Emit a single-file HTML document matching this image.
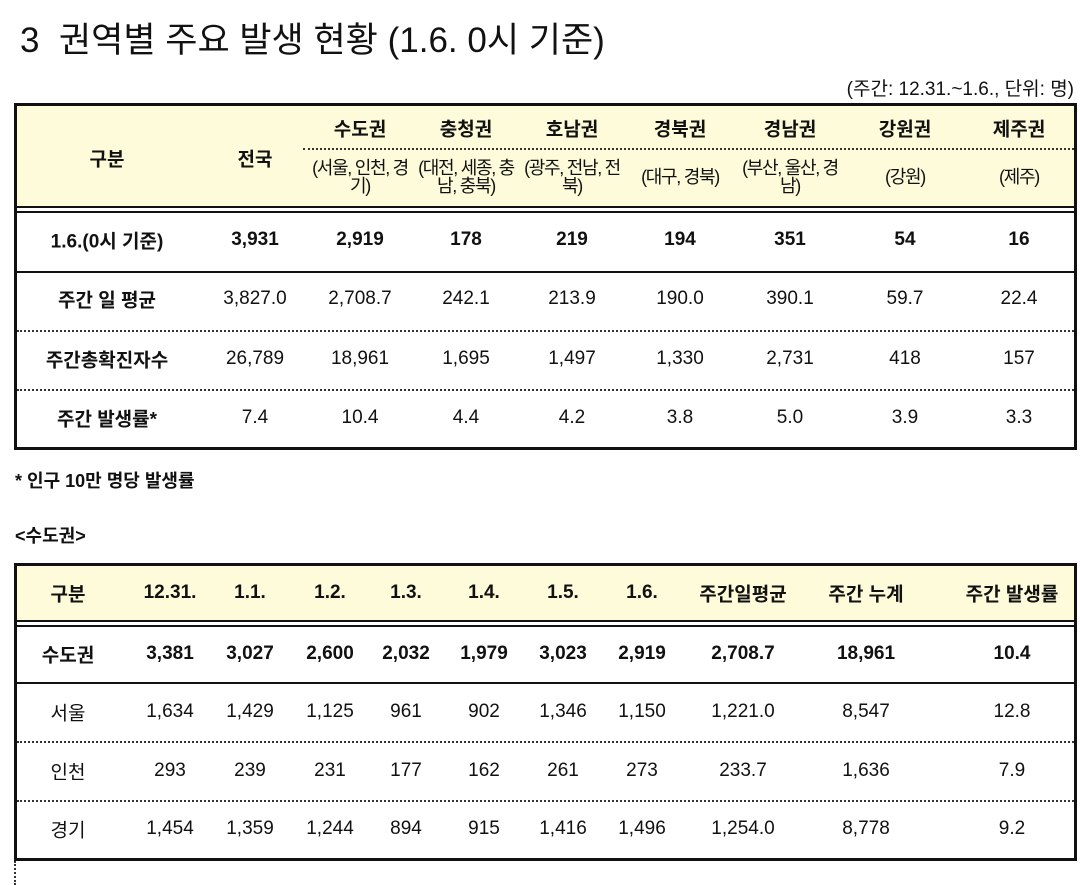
<!DOCTYPE html>
<html><head><meta charset="utf-8">
<style>
*{margin:0;padding:0;box-sizing:border-box}
body{width:1080px;height:885px;background:#fff;position:relative;overflow:hidden;font-family:"Liberation Sans","Noto Sans CJK KR",sans-serif;color:#111}
.a{position:absolute}
.c{position:absolute;transform:translate(-50%,-50%);white-space:nowrap;text-align:center}
.b{font-weight:bold}
.sub{letter-spacing:-1.3px;line-height:18px}
.hl{position:absolute;height:0}
.dot{border-top:2px dotted #333}
</style></head><body>
<div class="a" style="left:20px;top:12px;font-size:35px;letter-spacing:0px">3 &nbsp;권역별 주요 발생 현황 (1.6. 0시 기준)</div>
<div class="a" style="right:6px;top:74px;font-size:19px">(주간: 12.31.~1.6., 단위: 명)</div>

<div class="a" style="left:14px;top:103px;width:1063px;height:347px;border:3px solid #111">
  <div class="a" style="left:0;top:0;width:1057px;height:102px;background:#fdfbd9;border-bottom:2px solid #111"></div>
  <div class="a" style="left:0;top:105px;width:1057px;border-top:2px solid #111"></div>
  <div class="hl dot" style="left:286px;top:42px;width:771px"></div>
  <div class="hl" style="left:0;top:165px;width:1057px;border-top:2px solid #111"></div>
  <div class="hl dot" style="left:0;top:224px;width:1057px"></div>
  <div class="hl dot" style="left:0;top:283px;width:1057px"></div>
</div>
<div id="t1"></div>

<div class="a b" style="left:15px;top:467px;font-size:18px">* 인구 10만 명당 발생률</div>
<div class="a b" style="left:15px;top:522px;font-size:18px">&lt;수도권&gt;</div>

<div class="a" style="left:14px;top:563px;width:1063px;height:298px;border:3px solid #111">
  <div class="a" style="left:0;top:0;width:1057px;height:56px;background:#fdfbd9;border-bottom:2px solid #111"></div>
  <div class="a" style="left:0;top:59px;width:1057px;border-top:2px solid #111"></div>
  <div class="hl" style="left:0;top:116px;width:1057px;border-top:2px solid #111"></div>
  <div class="hl dot" style="left:0;top:175px;width:1057px"></div>
  <div class="hl dot" style="left:0;top:234px;width:1057px"></div>
</div>
<div class="a" style="left:14px;top:861px;height:24px;border-left:2px dotted #333"></div>
<div id="t2"></div>

<script>
const regions=["수도권","충청권","호남권","경북권","경남권","강원권","제주권"];
const regionSubs=[["(서울, 인천, 경","기)"],["(대전, 세종, 충","남, 충북)"],["(광주, 전남, 전","북)"],["(대구, 경북)"],["(부산, 울산, 경","남)"],["(강원)"],["(제주)"]];
const rowLabels=["1.6.(0시 기준)","주간 일 평균","주간총확진자수","주간 발생률*"];
const rowNational=["3,931","3,827.0","26,789","7.4"];
const rowToday=["2,919","178","219","194","351","54","16"];
const rowAvg=["2,708.7","242.1","213.9","190.0","390.1","59.7","22.4"];
const rowTotal=["18,961","1,695","1,497","1,330","2,731","418","157"];
const rowRate=["10.4","4.4","4.2","3.8","5.0","3.9","3.3"];
const days=["12.31.","1.1.","1.2.","1.3.","1.4.","1.5.","1.6.","주간일평균","주간 누계","주간 발생률"];
const capLabels=["수도권","서울","인천","경기"];
const capTotal=["3,381","3,027","2,600","2,032","1,979","3,023","2,919","2,708.7","18,961","10.4"];
const seoul=["1,634","1,429","1,125","961","902","1,346","1,150","1,221.0","8,547","12.8"];
const incheon=["293","239","231","177","162","261","273","233.7","1,636","7.9"];
const gyeonggi=["1,454","1,359","1,244","894","915","1,416","1,496","1,254.0","8,778","9.2"];

function put(parent,x,y,html,cls,name,size){
  const d=document.createElement('div');
  d.className='c '+(cls||'');
  d.style.left=x+'px';d.style.top=y+'px';d.style.fontSize=(size||19)+'px';
  d.innerHTML=html;
  
  
  parent.appendChild(d);
}
const t1=document.getElementById('t1');
const cx1=[107,255,360,466,572,680,790,905,1019];
put(t1,cx1[0],158,"구분","b","header-category");
put(t1,cx1[1],158,"전국","b","header-national");
regions.forEach((r,i)=>{
  put(t1,cx1[i+2],128,r,"b","header-region");
  put(t1,cx1[i+2],177,regionSubs[i].join("<br>"),"sub","header-region-sub",18);
});
const rowsY=[240,299,359,418];
const rowSets=[rowToday,rowAvg,rowTotal,rowRate];
rowLabels.forEach((l,r)=>{
  put(t1,cx1[0],rowsY[r],l,"b","row-label");
  put(t1,cx1[1],rowsY[r],rowNational[r],r==0?"b":"","cell-national");
  rowSets[r].forEach((v,i)=>put(t1,cx1[i+2],rowsY[r],v,r==0?"b":"","cell-value"));
});
const t2=document.getElementById('t2');
const cx2=[68,170,250,330,406,484,563,642,743,866,1012];
put(t2,cx2[0],593,"구분","b","header-category");
days.forEach((d,i)=>put(t2,cx2[i+1],593,d,"b","header-day"));
const y2=[654,712,771,829];
[capTotal,seoul,incheon,gyeonggi].forEach((arr,r)=>{
  put(t2,cx2[0],y2[r],capLabels[r],r==0?"b":"","row-label");
  arr.forEach((v,i)=>put(t2,cx2[i+1],y2[r],v,r==0?"b":"","cell-value"));
});
</script>
</body></html>
